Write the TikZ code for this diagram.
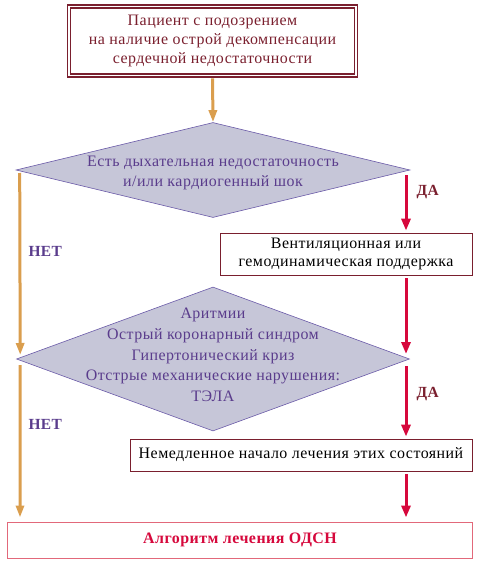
\documentclass[tikz,border=0pt]{standalone}
\usepackage{fontspec}
\setmainfont[LetterSpace=3]{Liberation Serif}
\usetikzlibrary{shapes.geometric,arrows.meta,calc}
\definecolor{maroon}{HTML}{7A1F2E}
\definecolor{orng}{HTML}{DA9E4E}
\definecolor{crim}{HTML}{D6083C}
\definecolor{dfill}{HTML}{C6C6D8}
\definecolor{dline}{HTML}{6A5AA8}
\definecolor{ptext}{HTML}{5A3C8C}
\definecolor{pinkb}{HTML}{E2687A}
\tikzset{
  oarr/.style={draw=orng, line width=3bp, -{Triangle[length=12bp,width=8bp]}},
  rarr/.style={draw=crim, line width=3bp, -{Triangle[length=12bp,width=9bp]}},
  dia/.style={diamond, draw=dline, fill=dfill, line width=0.6bp, inner sep=0pt},
  diatext/.style={align=center, text=ptext, font=\fontsize{16}{20.7}\selectfont},
  rbox/.style={draw=maroon, line width=0.8bp, fill=white, align=center, font=\fontsize{16}{19}\selectfont, inner sep=0pt},
  lblno/.style={text=ptext, font=\fontsize{15.5}{15}\selectfont\bfseries},
  lblyes/.style={text=maroon, font=\fontsize{15.5}{15}\selectfont\bfseries},
}
\begin{document}
\begin{tikzpicture}[x=1bp,y=-1bp]
\useasboundingbox (0,0) rectangle (477,566);
% top box
\node[draw=maroon, line width=1.6bp, double=white, double distance=1.6bp, inner sep=0pt,
  minimum width=287bp, minimum height=69bp, align=center, text=maroon,
  font=\fontsize{16}{19}\selectfont] (top) at (212.5,41)
  {Пациент с подозрением\\на наличие острой декомпенсации\\сердечной недостаточности};
% diamond 1
\node[dia, minimum width=394bp, minimum height=95bp] (d1) at (213,170) {};
\node[diatext] (t1) at (213,173) {Есть дыхательная недостаточность\\и/или кардиогенный шок};
% box 2
\node[rbox, minimum width=252bp, minimum height=42bp] (b2) at (346,254)
  {Вентиляционная или\\гемодинамическая поддержка};
% diamond 2
\node[dia, minimum width=393bp, minimum height=144bp] (d2) at (213,359) {};
\node[diatext] (t2) at (213,355) {Аритмии\\Острый коронарный синдром\\Гипертонический криз\\Отстрые механические нарушения:\\ТЭЛА};
% box 3
\node[rbox, minimum width=342bp, minimum height=32bp] (b3) at (301,455)
  {Немедленное начало лечения этих состояний};
% box 4
\node[draw=pinkb, line width=1bp, minimum width=464bp, minimum height=36bp, inner sep=0pt,
  text=crim, font=\fontsize{16}{15}\selectfont\bfseries] (b4) at (240,540)
  {Алгоритм лечения ОДСН};
% coordinates
\coordinate (xl) at (20,0);
\coordinate (xr) at (406,0);
% arrows
\draw[oarr] ($(top.south)+(0,2)$) -- (d1.north);
\draw[oarr] ($(d1.west)+(4,3)$) -- ($(d2.west)+(4,-4)$);
\draw[oarr] ($(d2.west)+(4,6)$) -- ($(b4.north -| xl)+(0,-4)$);
\draw[rarr] ($(d1.east -| xr)+(0,5)$) -- ($(b2.north -| xr)+(0,-2)$);
\draw[rarr] ($(b2.south -| xr)+(0,3)$) -- ($(d2.east -| xr)+(0,-5)$);
\draw[rarr] ($(d2.east -| xr)+(0,7)$) -- ($(b3.north -| xr)+(0,-2)$);
\draw[rarr] ($(b3.south -| xr)+(0,3)$) -- ($(b4.north -| xr)+(0,-4)$);
% labels
\node[lblno, anchor=west] (n1) at (25,251) {НЕТ};
\node[lblno, anchor=west] (n2) at (25,424) {НЕТ};
\node[lblyes, anchor=west] (y1) at (413,192) {ДА};
\node[lblyes, anchor=west] (y2) at (413,394) {ДА};
\end{tikzpicture}
\end{document}
